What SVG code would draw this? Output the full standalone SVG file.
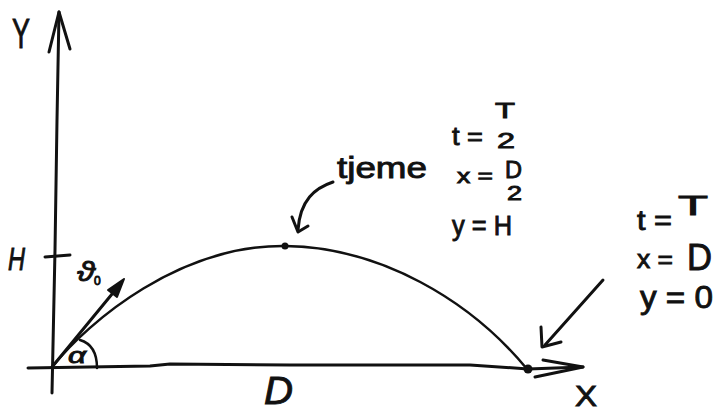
<svg xmlns="http://www.w3.org/2000/svg" width="717" height="412" viewBox="0 0 717 412">
<style>
.ln{fill:none;stroke:#111;stroke-width:3;stroke-linecap:round;stroke-linejoin:round}
.th{fill:none;stroke:#111;stroke-width:2.5;stroke-linecap:round;stroke-linejoin:round}
text{font-family:"Liberation Sans","DejaVu Sans",sans-serif;fill:#111;stroke:#111;stroke-width:0.9}
</style>
<rect width="717" height="412" fill="#fff"/>
<g id="axes">
  <path class="ln" d="M59 12 L57 120 L55 250 L52 393"/>
  <path class="ln" d="M49 52 L59 12 L70 49"/>
  <path class="ln" d="M28 368 L150 366 L170 364 L290 365 L470 365 L528 369 L583 367"/>
  <path class="ln" d="M543 360 L583 367 L535 377"/>
  <path class="ln" d="M45 257 L70 255"/>
  <text x="12" y="48" font-size="42" textLength="18" lengthAdjust="spacingAndGlyphs">Y</text>
  <text x="575" y="406" font-size="30" textLength="22" lengthAdjust="spacingAndGlyphs">X</text>
  <text x="8" y="270" font-size="32" textLength="17" lengthAdjust="spacingAndGlyphs" font-style="italic">H</text>
  <text x="264" y="404" font-size="38" textLength="29" lengthAdjust="spacingAndGlyphs" font-style="italic">D</text>
</g>
<g id="velocity">
  <path class="ln" d="M52 367 L117 288"/>
  <path d="M124 279 L108 290 L117 297 Z" fill="#111" stroke="#111" stroke-width="2" stroke-linejoin="round"/>
  <path class="th" d="M80 340 Q97 345 97 368"/>
  <text x="77" y="281" font-size="28" font-style="italic" textLength="18" lengthAdjust="spacingAndGlyphs">ϑ</text>
  <text x="94" y="285" font-size="12">0</text>
  <text x="68" y="363" font-size="22" font-style="italic" textLength="18" lengthAdjust="spacingAndGlyphs">α</text>
</g>
<g id="trajectory">
  <path class="th" d="M52 367 C90 320 180 245 285 246 C380 247 470 300 527 369"/>
  <circle cx="285" cy="246" r="3.5" fill="#111"/>
  <circle cx="528" cy="369" r="4.5" fill="#111"/>
</g>
<g id="apex">
  <text x="337" y="178" font-size="30" textLength="90" lengthAdjust="spacingAndGlyphs">tjeme</text>
  <path class="ln" d="M333 182 C315 188 300 200 298 230"/>
  <path class="ln" d="M292 217 L298 232 L308 226"/>
  <text x="452" y="145" font-size="26" textLength="31" lengthAdjust="spacingAndGlyphs">t =</text>
  <text x="495" y="118" font-size="22" textLength="20" lengthAdjust="spacingAndGlyphs">T</text>
  <text x="497" y="148" font-size="22" textLength="18" lengthAdjust="spacingAndGlyphs">2</text>
  <text x="457" y="183" font-size="20" textLength="36" lengthAdjust="spacingAndGlyphs">x =</text>
  <text x="505" y="178" font-size="24" textLength="17" lengthAdjust="spacingAndGlyphs">D</text>
  <text x="507" y="200" font-size="20" textLength="15" lengthAdjust="spacingAndGlyphs">2</text>
  <text x="452" y="235" font-size="28" textLength="60" lengthAdjust="spacingAndGlyphs">y = H</text>
</g>
<g id="landing">
  <path class="ln" d="M603 280 L545 345"/>
  <path class="ln" d="M541 327 L542 347 L561 342"/>
  <text x="637" y="230" font-size="28" textLength="35" lengthAdjust="spacingAndGlyphs">t =</text>
  <text x="678" y="215" font-size="28" textLength="30" lengthAdjust="spacingAndGlyphs">T</text>
  <text x="637" y="268" font-size="26" textLength="36" lengthAdjust="spacingAndGlyphs">x =</text>
  <text x="687" y="270" font-size="36" textLength="25" lengthAdjust="spacingAndGlyphs">D</text>
  <text x="640" y="308" font-size="32" textLength="73" lengthAdjust="spacingAndGlyphs">y = 0</text>
</g>
</svg>
